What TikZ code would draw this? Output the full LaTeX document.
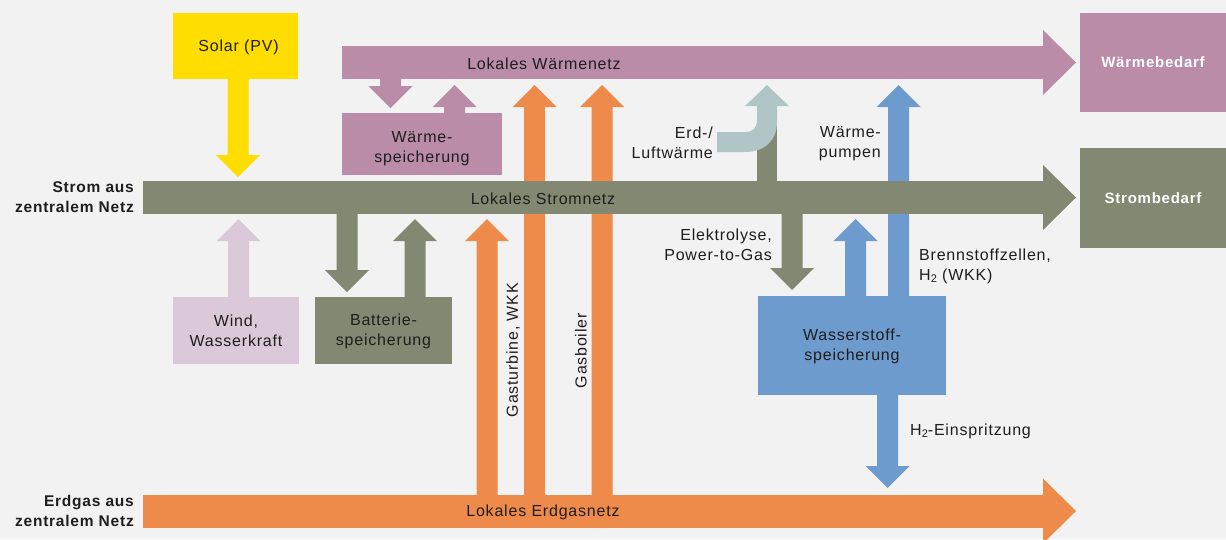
\documentclass[tikz,border=0pt]{standalone}
\usepackage{fontspec}
\setmainfont{Liberation Sans}[LetterSpace=5]
\definecolor{bg}{HTML}{F2F2F2}
\definecolor{ink}{HTML}{1E1E1E}
\definecolor{heat}{HTML}{BA8CA8}
\definecolor{power}{HTML}{838872}
\definecolor{gas}{HTML}{EE8B4A}
\definecolor{hydro}{HTML}{6E9BCD}
\definecolor{sun}{HTML}{FFDD00}
\definecolor{wind}{HTML}{DBC9D9}
\definecolor{ground}{HTML}{AFC5C6}
% vertical block arrows: colour, x of axis, y of tail, y of tip
\newcommand\blockup[4]{\fill[#1] (#2-10.5,#3) -- (#2-10.5,#4+22) -- (#2-22,#4+22) -- (#2,#4) -- (#2+22,#4+22) -- (#2+10.5,#4+22) -- (#2+10.5,#3) -- cycle;}
\newcommand\blockdown[4]{\fill[#1] (#2-10.5,#3) -- (#2-10.5,#4-22) -- (#2-22,#4-22) -- (#2,#4) -- (#2+22,#4-22) -- (#2+10.5,#4-22) -- (#2+10.5,#3) -- cycle;}
% head of a horizontal bar: colour, x of head base, y of axis
\newcommand\barhead[3]{\fill[#1] (#2-1,#3-16.5) -- (#2,#3-16.5) -- (#2,#3-32.5) -- (#2+33,#3) -- (#2,#3+32.5) -- (#2,#3+16.5) -- (#2-1,#3+16.5) -- cycle;}
\begin{document}
\begin{tikzpicture}[x=1pt,y=-1pt,
  txt/.style={font=\fontsize{16}{20}\selectfont, text=ink, inner sep=0pt, align=center, yshift=-1.2pt},
  bold/.style={font=\fontsize{15.5}{20}\selectfont\bfseries, text=ink, inner sep=0pt, yshift=-1pt},
  box/.style={txt, minimum width=#1},
  bar/.style={inner sep=0pt, minimum height=33, anchor=west}]
\fill[bg] (0,0) rectangle (1226,539);
\useasboundingbox (0,0) rectangle (1226,539);

% gas-fed arrows and the fuel cell line, partly hidden by the power bar
\blockup{gas}{534.5}{495}{85}
\blockup{gas}{602}{495}{85}
\blockup{gas}{487}{495}{219}
\blockup{hydro}{898.5}{297}{85}

% three networks
\node[bar, fill=power, minimum width=901] (strom) at (143,197.5) {};
\barhead{power}{1043}{197.5}
\node[bar, fill=heat, minimum width=701] (waerme) at (342,62.5) {};
\barhead{heat}{1043}{62.5}
\node[bar, fill=gas, minimum width=901] (erdgas) at (143,511) {};
\barhead{gas}{1043}{511}

\node[txt] (lw) at (544,62.5) {Lokales Wärmenetz};
\node[txt] (ls) at (543,198) {Lokales Stromnetz};
\node[txt] (le) at (543,511) {Lokales Erdgasnetz};

% demand boxes
\node[fill=heat, minimum width=146, minimum height=99, inner sep=0pt,
      font=\fontsize{15}{18}\selectfont\bfseries, text=white] (wb) at (1153,62.5) {Wärmebedarf};
\node[fill=power, minimum width=146, minimum height=100, inner sep=0pt,
      font=\fontsize{15}{18}\selectfont\bfseries, text=white] (sb) at (1153,198) {Strombedarf};

% supply from outside
\node[bold, anchor=east, align=right] (zs) at (134,196) {Strom aus\\zentralem Netz};
\node[bold, anchor=east, align=right] (ze) at (134,510) {Erdgas aus\\zentralem Netz};

% solar
\blockdown{sun}{238}{78}{177}
\fill[sun] (173,13) rectangle (298,79);
\node[txt] (pv) at (238.5,46) {Solar (PV)};

% heat storage
\blockdown{heat}{390.5}{78}{108}
\blockup{heat}{454.5}{114}{85}
\fill[heat] (342,113) rectangle (502,175);
\node[txt] (ws) at (422,147) {Wärme-\\speicherung};

% wind and battery
\blockup{wind}{238.5}{298}{219}
\fill[wind] (173,297) rectangle (299,364);
\node[txt] (wind) at (236,330) {Wind,\\Wasserkraft};
\blockdown{power}{347}{213}{292}
\blockup{power}{415}{298}{219}
\fill[power] (315,297) rectangle (452,364);
\node[txt] (batt) at (383.5,330) {Batterie-\\speicherung};

% ambient heat
\fill[power] (757,120) rectangle (777,182);
\fill[ground] (717,132) -- (745,132) .. controls (753,132) and (757,128) .. (757,120)
  -- (757,106) -- (745,106) -- (767,85) -- (789,106) -- (777,106) -- (777,122)
  .. controls (777,140) and (765,152) .. (745,152) -- (717,152) -- cycle;
\node[txt, anchor=east, align=right] (erd) at (713,142) {Erd-/\\Luftwärme};
\node[txt, anchor=east, align=right] (wp) at (881,142) {Wärme-\\pumpen};

% hydrogen
\blockdown{power}{792}{213}{290}
\blockup{hydro}{855.5}{297}{219}
\blockdown{hydro}{887.5}{394}{488}
\fill[hydro] (758,296) rectangle (946,395);
\node[txt] (h2) at (852,345.5) {Wasserstoff-\\speicherung};
\node[txt, anchor=east, align=right] (ely) at (772,243.5) {Elektrolyse,\\Power-to-Gas};
\node[txt, anchor=west, align=left] (bz) at (919,265) {Brennstoffzellen,\\H{\fontsize{11}{11}\selectfont\raisebox{-2pt}{2}} (WKK)};
\node[txt, anchor=west] (inj) at (910,430.5) {H{\fontsize{11}{11}\selectfont\raisebox{-2pt}{2}}-Einspritzung};

% gas labels along the arrows
\node[txt, rotate=90, yshift=0pt] (gt) at (513,349) {Gasturbine, WKK};
\node[txt, rotate=90, yshift=0pt] (gb) at (581,349.5) {Gasboiler};
\end{tikzpicture}
\end{document}
